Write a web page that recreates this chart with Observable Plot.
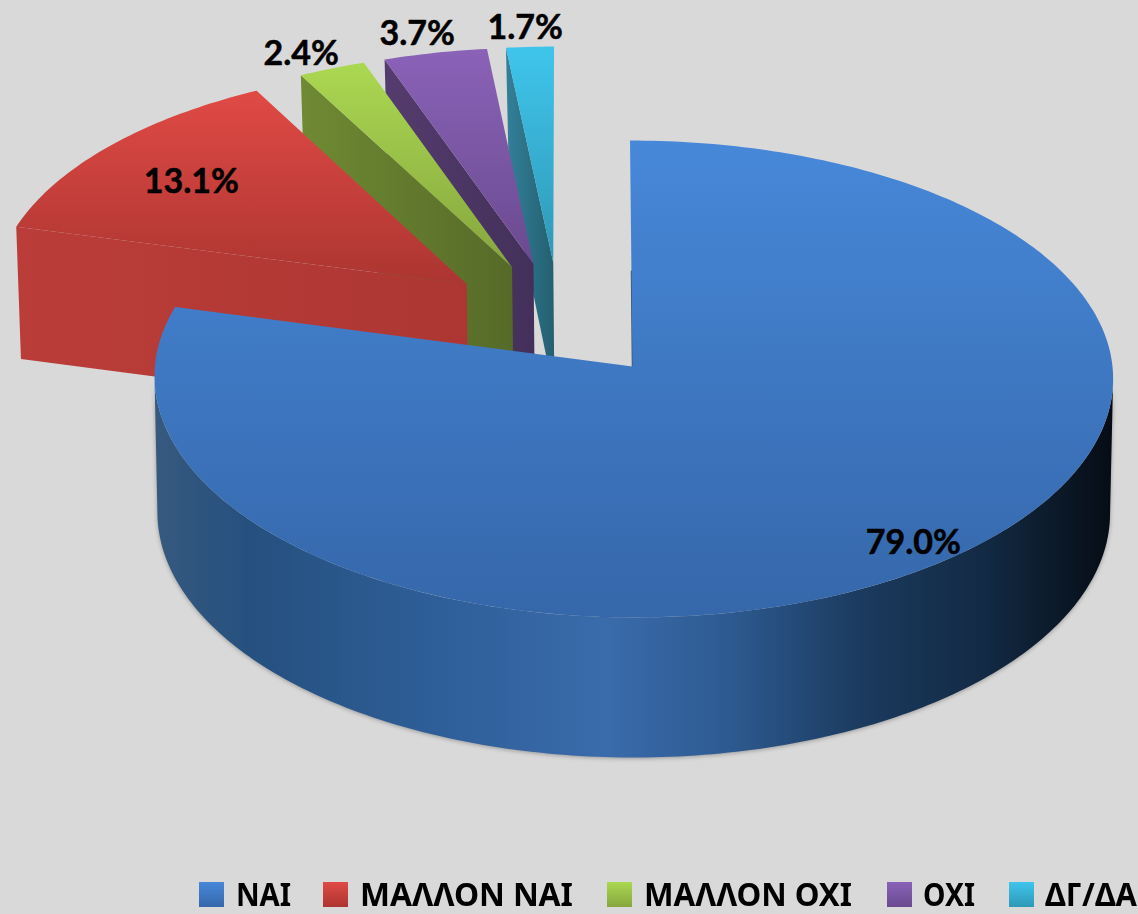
<!DOCTYPE html>
<html><head><meta charset="utf-8">
<script src="https://cdn.jsdelivr.net/npm/d3@7"></script>
<script src="https://cdn.jsdelivr.net/npm/@observablehq/plot@0.6"></script>
<style>
html,body{margin:0;padding:0;background:#d9d9d9;width:1138px;height:914px;overflow:hidden}
#legend{position:relative;height:44px;width:1138px;overflow:hidden;font:700 32px "Noto Sans",sans-serif;color:#000;white-space:nowrap}
#legend .sw{position:absolute;top:12px;width:25px;height:25px}
#legend .tx{position:absolute;top:3px;line-height:42px;transform-origin:0 50%}
svg{display:block}
</style></head><body><div id="chart"></div><div id="legend"></div>
<script>
const categories = ["ΝΑΙ","ΜΑΛΛΟΝ ΝΑΙ","ΜΑΛΛΟΝ ΟΧΙ","ΟΧΙ","ΔΓ/ΔΑ"];
const values = [79.0,13.1,2.4,3.7,1.7];
const faceTop = ["#4788d9","#e04a45","#abd852","#8a62b8","#3fc5ec"];
const faceBottom = ["#3567aa","#ac3531","#86a63e","#6a4a8f","#2f98b6"];
const wallLeft = ["#35597f","#bb3d39","#6f8a33","#553c6e","#33809a"];
const wallRight = ["#070e17","#ad3633","#566a28","#43305a","#245f70"];
const labelRadius = [0.906,0.757,1.098,1.102,1.096];
const labelTurn = [-0.7,-0.7,-1.75,-1.0,-0.3];
const legendSwatchX = [199,323,607,887,1009];
const legendTextX = [236,360,644,923,1045];
const legendTextWidth = [55,213,208,52,92];

const W = 1138, H = 870;
const total = d3.sum(values);
const cum = d3.cumsum(values);
const turn = f => f * 2 * Math.PI / total;
const dir = a => [Math.sin(a), Math.cos(a)];
// slice angles (clockwise from 12 o'clock)
const slices = values.map((v,i)=>({i, a0: turn(i?cum[i-1]:0), a1: turn(cum[i]), mid: turn((i?cum[i-1]:0)+v/2)}));
// every slice is exploded by the same amount along its bisector
const explode = 0.25;
const bm = dir(slices[0].mid);
const origin = [-explode*bm[0], -explode*bm[1]];
slices.forEach(s=>{const d=dir(s.mid); s.apex=[origin[0]+explode*d[0], origin[1]+explode*d[1]];});
// perspective of the two planes of the pie
const planes = [
  {cx:632,rx:480,cy:366,ry:237.8,k:0.0524,s:2.5},
  {cx:632,rx:477,cy:501.1,ry:242.5,k:0.0524,s:1}
];
function proj(u,v,z,i){const p=planes[z],w=1+p.k*v,f=(i===0&&u<0)?0.995:1;
  return {x:p.cx+f*p.rx*u/w-p.s*v+3*u*v,y:p.cy-p.ry*v/w};}
function arc(s,a0,a1,z){const n=Math.max(4,Math.ceil((a1-a0)*60));
  return d3.range(n+1).map(j=>{const a=a0+(a1-a0)*j/n;const d=dir(a);return proj(s.apex[0]+d[0],s.apex[1]+d[1],z,s.i);});}
const topFace = s => [proj(s.apex[0],s.apex[1],0,s.i),...arc(s,s.a0,s.a1,0),proj(s.apex[0],s.apex[1],0,s.i)];
const startWall = s => {const d=dir(s.a0),e=[s.apex[0]+d[0],s.apex[1]+d[1]];
  return [proj(s.apex[0],s.apex[1],0,s.i),proj(e[0],e[1],0,s.i),proj(e[0],e[1],1,s.i),proj(s.apex[0],s.apex[1],1,s.i),proj(s.apex[0],s.apex[1],0,s.i)];};
// curved wall between the two silhouette tangents of the disc
const silhouette = Math.acos(-planes[0].k);
const outerWall = s => {const a0=silhouette,a1=2*Math.PI-silhouette;return [...arc(s,a0,a1,0),...arc(s,a0,a1,1).reverse()];};

const poly = (pts,fill,extra={}) => Plot.line(pts,{x:"x",y:"y",fill,stroke:"none",curve:"linear",...extra});
const defs = () => {
  const d = d3.create("svg:defs");
  const add=(id,x2,y2,stops)=>{const g=d.append("linearGradient").attr("id",id).attr("x1",0).attr("y1",0).attr("x2",x2).attr("y2",y2);
    stops.forEach(([o,c])=>g.append("stop").attr("offset",o).attr("stop-color",c));};
  categories.forEach((c,i)=>{add("face"+i,0,1,[[0,faceTop[i]],[1,faceBottom[i]]]);add("wall"+i,1,0,[[0,wallLeft[i]],[1,wallRight[i]]]);});
  add("rim",1,0,[[0,"#37597e"],[0.1,"#25507f"],[0.3,"#2f5f99"],[0.47,"#3a6bab"],[0.6,"#2d5a90"],[0.74,"#1b3a5e"],[0.87,"#122943"],[1,"#060c14"]]);
  return d.node();
};
const marks = [defs];
// back-to-front
[4,3,2,1].forEach(i=>{const s=slices[i];
  marks.push(poly(startWall(s),`url(#wall${i})`));
  marks.push(poly(topFace(s),`url(#face${i})`));
});
const b = slices[0];
marks.push(poly(outerWall(b),"url(#rim)",{imageFilter:"drop-shadow(0 1px 2px rgba(0,0,0,0.3))"}));
marks.push(Plot.line([proj(0,0,0,0),proj(dir(0)[0],dir(0)[1],1,0)],{x:"x",y:"y",stroke:"#3a4f68",strokeWidth:1.5}));
marks.push(poly(topFace(b),"url(#face0)"));
const labels = slices.map(s=>{const d=dir(s.mid+labelTurn[s.i]*Math.PI/180),r=labelRadius[s.i];
  return {...proj(s.apex[0]+r*d[0],s.apex[1]+r*d[1],0,s.i),t:values[s.i].toFixed(1)+"%"};});
marks.push(Plot.text(labels,{x:"x",y:"y",text:"t",fontFamily:"Lato",fontWeight:700,fontSize:34,fill:"#000",stroke:"#000",strokeWidth:0.5,dy:1}));

document.getElementById("chart").append(Plot.plot({
  width:W,height:H,margin:0,
  style:{background:"#d9d9d9"},
  x:{domain:[0,W],range:[0,W],axis:null},
  y:{domain:[0,H],range:[0,H],axis:null},
  marks
}));
const lg=document.getElementById("legend");
categories.forEach((c,i)=>{
  const sw=document.createElement("div");sw.className="sw";sw.style.left=legendSwatchX[i]+"px";
  sw.style.background=`linear-gradient(${faceTop[i]},${faceBottom[i]})`;lg.append(sw);
  const t=document.createElement("span");t.className="tx";t.style.left=legendTextX[i]+"px";t.textContent=c;lg.append(t);
  t.style.transform=`scaleX(${legendTextWidth[i]/t.getBoundingClientRect().width})`;
});
</script></body></html>
